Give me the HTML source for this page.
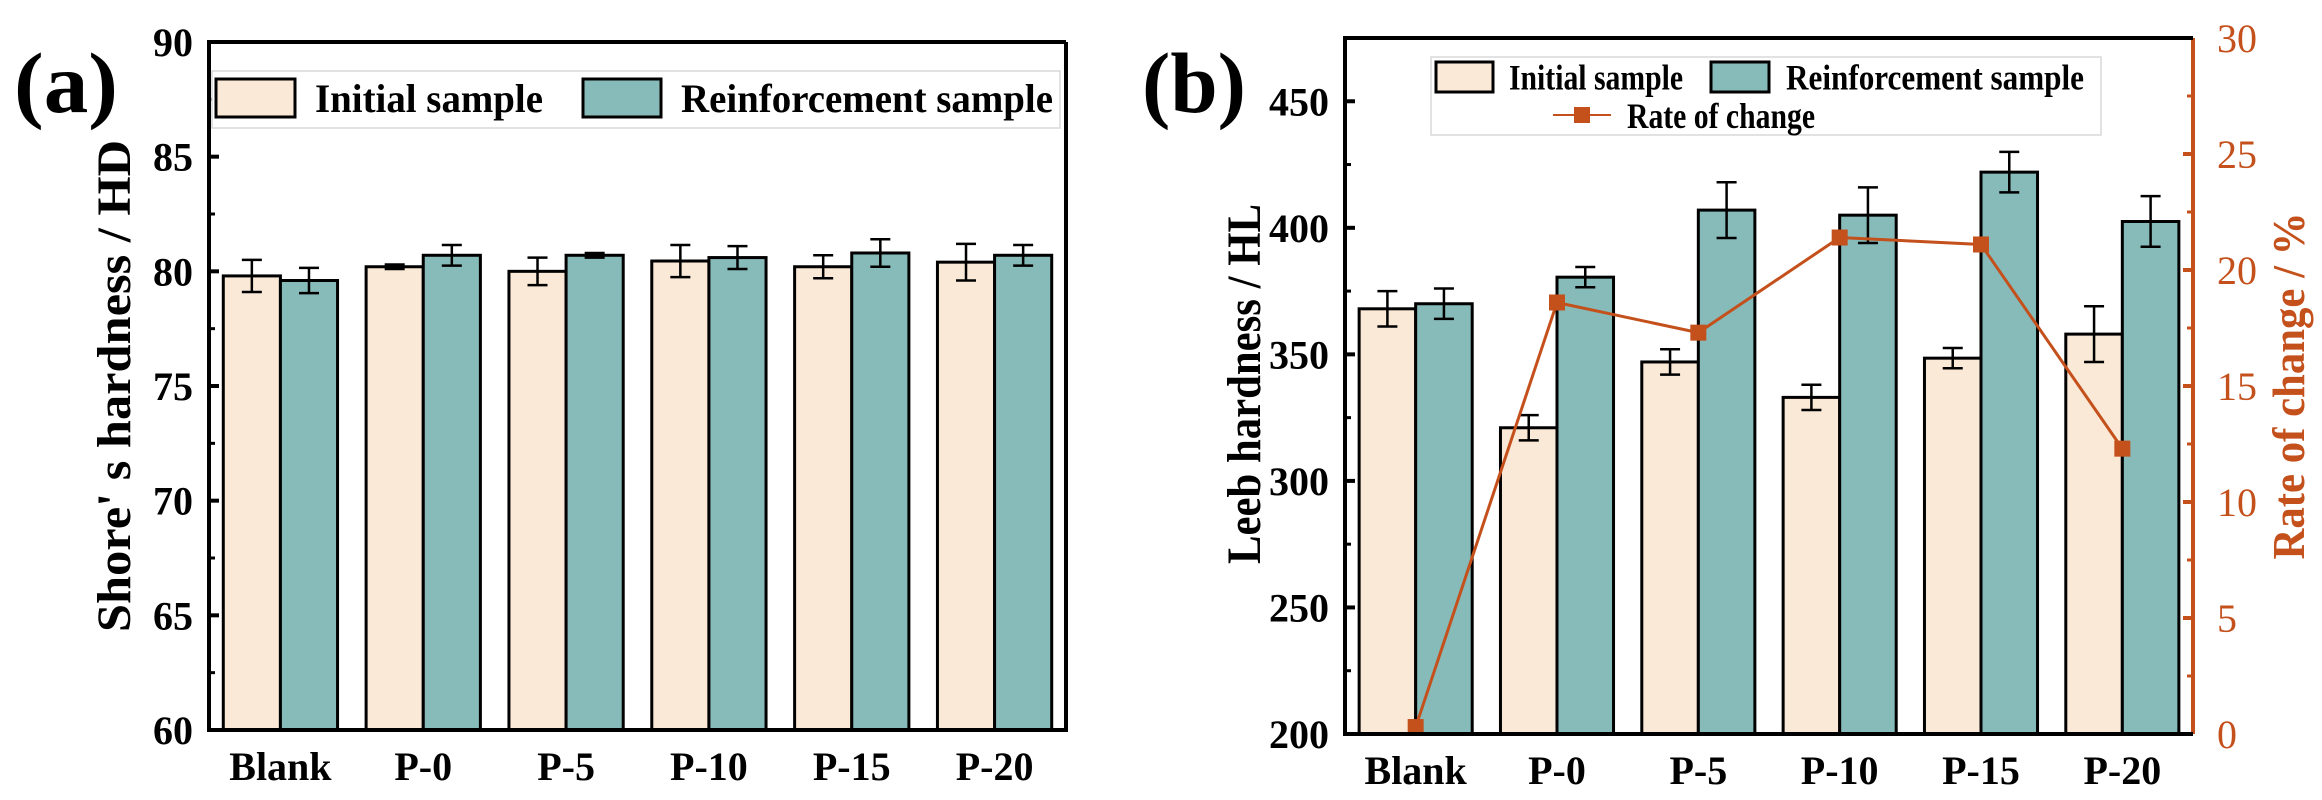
<!DOCTYPE html>
<html><head><meta charset="utf-8"><style>
html,body{margin:0;padding:0;background:#fff;}
svg{display:block;font-family:"Liberation Serif",serif;font-weight:bold;}
</style></head><body>
<svg id="chart" width="2322" height="800" viewBox="0 0 2322 800" xmlns="http://www.w3.org/2000/svg"></svg>
<script>
const categories = ["Blank","P-0","P-5","P-10","P-15","P-20"];
const shoreInitial = [79.8,80.2,80.0,80.45,80.2,80.4];
const shoreInitialErr = [0.7,0.1,0.6,0.7,0.5,0.8];
const shoreReinf = [79.6,80.7,80.7,80.6,80.8,80.7];
const shoreReinfErr = [0.55,0.45,0.1,0.5,0.6,0.45];
const shoreTicks = [60,65,70,75,80,85,90];
const leebInitial = [368,321,347,333,348.5,358];
const leebInitialErr = [7,5,5,5,4,11];
const leebReinf = [370,380.5,407,405,422,402.5];
const leebReinfErr = [6,4,11,11,8,10];
const leebTicks = [200,250,300,350,400,450];
const rateValues = [0.3,18.6,17.3,21.4,21.1,12.3];
const rateTicks = [0,5,10,15,20,25,30];

const NS="http://www.w3.org/2000/svg";
const svg=document.getElementById('chart');
const C1="#fbe9d7", C2="#86bbb9", RC="#c4501c";
function mk(tag,attrs,parent){const e=document.createElementNS(NS,tag);for(const k in attrs)e.setAttribute(k,attrs[k]);(parent||svg).appendChild(e);return e;}
function txt(s,attrs,parent){const e=mk('text',attrs,parent);e.textContent=s;return e;}

function panel(o){
  const g=mk('g',{});
  
  
  const L=o.L,R=o.R,T=o.T,B=o.B;
  const y=v=>B-(v-o.ymin)/(o.ymax-o.ymin)*(B-T);
  const band=(R-L)/categories.length;
  const xc=i=>L+band*(i+0.5);
  const bw=band*0.4;
  categories.forEach((c,i)=>{
    [[o.s1,o.e1,C1,-1,'initial'],[o.s2,o.e2,C2,0,'reinforcement']].forEach(([s,e,col,off,nm])=>{
      const x=xc(i)+off*bw;
      const r=mk('rect',{x:x,y:y(s[i]),width:bw,height:B-y(s[i]),fill:col,stroke:'#000','stroke-width':3},g);
      
      
      const cx=x+bw/2;
      const eb=mk('path',{d:`M${cx},${y(s[i]+e[i])}V${y(s[i]-e[i])}M${cx-10},${y(s[i]+e[i])}H${cx+10}M${cx-10},${y(s[i]-e[i])}H${cx+10}`,stroke:'#000','stroke-width':2.5,fill:'none'},g);
      
      
    });
    const xl=txt(c,{x:xc(i),y:B+50,'text-anchor':'middle','font-size':40},g);
    
    
  });
  if(o.rate){
    const yr=v=>B-(v-0)/30*(B-T);
    const pts=o.rate.map((v,i)=>xc(i)+','+yr(v)).join(' ');
    const pl=mk('polyline',{points:pts,fill:'none',stroke:RC,'stroke-width':3},g);
    
    
    o.rate.forEach((v,i)=>{
      const m=mk('rect',{x:xc(i)-8,y:yr(v)-8,width:16,height:16,fill:RC},g);
      
      
    });
    const ra=mk('line',{x1:R,y1:T,x2:R,y2:B,stroke:RC,'stroke-width':4},g);
    
    
    rateTicks.forEach((t,k)=>{
      mk('line',{x1:R,x2:R-10,y1:yr(t),y2:yr(t),stroke:RC,'stroke-width':4},g);
      if(k<rateTicks.length-1) mk('line',{x1:R,x2:R-6,y1:yr(t+2.5),y2:yr(t+2.5),stroke:RC,'stroke-width':3},g);
      const tl=txt(t,{x:R+24,y:yr(t)+14,'font-size':40,fill:RC,'font-weight':'normal'},g);
      
      
    });
    const rt=txt('Rate of change / %',{x:0,y:0,transform:`translate(2304,${(T+B)/2}) rotate(-90)`,'text-anchor':'middle','font-size':46,fill:RC,textLength:347,lengthAdjust:'spacingAndGlyphs'},g);
    
    
  }
  const fr=mk('path',{d:`M${R},${T}H${L}V${B}H${R}`+(o.rate?'':`V${T}`),fill:'none',stroke:'#000','stroke-width':4},g);
  
  
  const step=o.ticks[1]-o.ticks[0];
  o.ticks.forEach((t,k)=>{
    mk('line',{x1:L,x2:L+10,y1:y(t),y2:y(t),stroke:'#000','stroke-width':4},g);
    if(t+step/2<o.ymax) mk('line',{x1:L,x2:L+6,y1:y(t+step/2),y2:y(t+step/2),stroke:'#000','stroke-width':3},g);
    const tl=txt(t,{x:L-16,y:y(t)+14,'text-anchor':'end','font-size':40},g);
    
    
  });
  const yt=txt(o.ytitle,{x:0,y:0,transform:`translate(${o.ytx},${o.yty}) rotate(-90)`,'text-anchor':'middle','font-size':48,textLength:o.ytl,lengthAdjust:'spacingAndGlyphs'},g);
  
  
  const pl=txt(o.label,{x:o.lx,y:112,'font-size':86,textLength:o.ll,lengthAdjust:'spacingAndGlyphs'},g);
  
  
  return g;
}

panel({name:'panel-a-shore',L:209,R:1066,T:42,B:730,ymin:60,ymax:90,ticks:shoreTicks,s1:shoreInitial,e1:shoreInitialErr,s2:shoreReinf,e2:shoreReinfErr,ytitle:"Shore' s hardness / HD",ytx:130,yty:386,ytl:492,label:'(a)',lx:14,ll:104});
panel({name:'panel-b-leeb',L:1345,R:2193,T:38,B:734,ymin:200,ymax:475,ticks:leebTicks,s1:leebInitial,e1:leebInitialErr,s2:leebReinf,e2:leebReinfErr,rate:rateValues,ytitle:"Leeb hardness / HL",ytx:1260,yty:384,ytl:360,label:'(b)',lx:1142,ll:104});

function legend(name,x,y,w,h){const g=mk('g',{});
  mk('rect',{x:x,y:y,width:w,height:h,fill:'#fff',stroke:'#d8d8d8','stroke-width':1.5},g);return g;}
function swatch(g,x,y,w,h,col,label,name,fs,tl,gap){
  const r=mk('rect',{x:x,y:y,width:w,height:h,fill:col,stroke:'#000','stroke-width':3},g);
  
  const t=txt(label,{x:x+w+gap,y:y+h/2+fs*0.35,'font-size':fs,textLength:tl,lengthAdjust:'spacingAndGlyphs'},g);
  
}
const la=legend('legend-a',212,71,848,57);
swatch(la,216,79,79,38,C1,'Initial sample','legend-initial',40,228,20);
swatch(la,583,79,78,38,C2,'Reinforcement sample','legend-reinforcement',40,372,20);
const lb=legend('legend-b',1431,57,670,78);
swatch(lb,1436,62,57,30,C1,'Initial sample','legend-initial',36,174,16);
swatch(lb,1711,62,58,30,C2,'Reinforcement sample','legend-reinforcement',36,298,17);
mk('line',{x1:1553,x2:1611,y1:115,y2:115,stroke:RC,'stroke-width':2},lb);
mk('rect',{x:1574,y:107,width:16,height:16,fill:RC},lb);
const rl=txt('Rate of change',{x:1627,y:128,'font-size':36,textLength:188,lengthAdjust:'spacingAndGlyphs'},lb);


</script>
</body></html>
